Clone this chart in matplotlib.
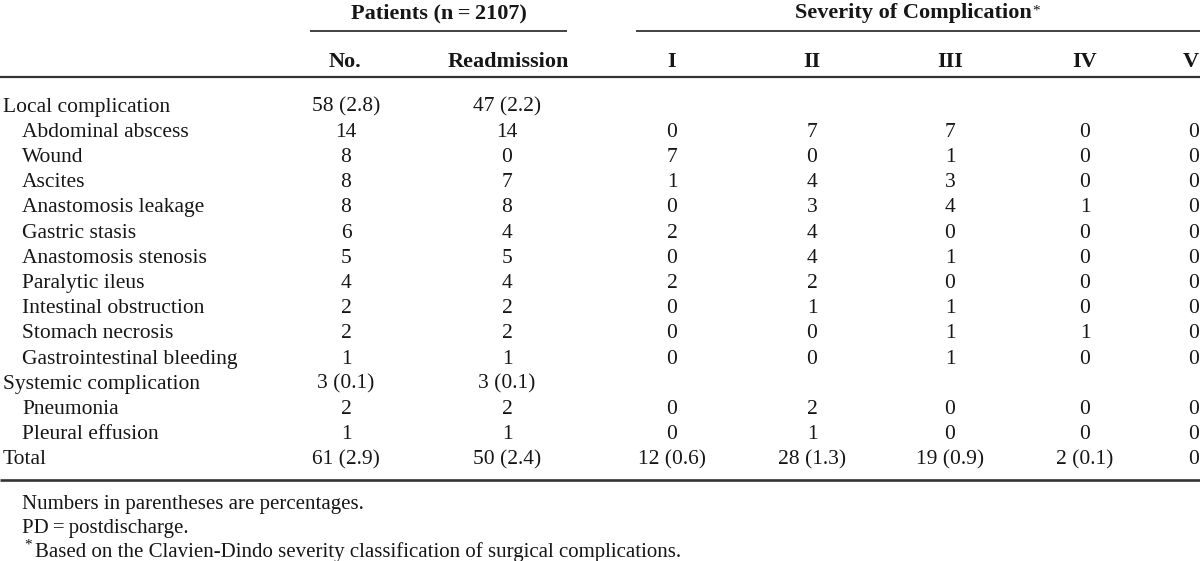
import matplotlib
matplotlib.use("Agg")
import matplotlib.pyplot as plt

# ---- data ----
row_labels = ["Local complication", "Abdominal abscess", "Wound", "Ascites",
              "Anastomosis leakage", "Gastric stasis", "Anastomosis stenosis",
              "Paralytic ileus", "Intestinal obstruction", "Stomach necrosis",
              "Gastrointestinal bleeding", "Systemic complication", "Pneumonia",
              "Pleural effusion", "Total"]
row_indent = [0, 1, 1, 1, 1, 1, 1, 1, 1, 1, 1, 0, 1, 1, 0]
col_no = ["58 (2.8)", "14", "8", "8", "8", "6", "5", "4", "2", "2", "1",
          "3 (0.1)", "2", "1", "61 (2.9)"]
col_readm = ["47 (2.2)", "14", "0", "7", "8", "4", "5", "4", "2", "2", "1",
             "3 (0.1)", "2", "1", "50 (2.4)"]
col_I = ["", "0", "7", "1", "0", "2", "0", "2", "0", "0", "0", "", "0", "0", "12 (0.6)"]
col_II = ["", "7", "0", "4", "3", "4", "4", "2", "1", "0", "0", "", "2", "1", "28 (1.3)"]
col_III = ["", "7", "1", "3", "4", "0", "1", "0", "1", "1", "1", "", "0", "0", "19 (0.9)"]
col_IV = ["", "0", "0", "0", "1", "0", "0", "0", "0", "1", "0", "", "0", "0", "2 (0.1)"]
col_V = ["", "0", "0", "0", "0", "0", "0", "0", "0", "0", "0", "", "0", "0", "0"]
col_headers = ["No.", "Readmission", "I", "II", "III", "IV", "V"]
group_headers = ["Patients (n\u2009=\u20092107)", "Severity of Complication"]
notes = ["Numbers in parentheses are percentages.",
         "PD\u2009=\u2009postdischarge.",
         "Based on the Clavien-Dindo severity classification of surgical complications."]

# ---- layout ----
W, H = 1200, 561
fig = plt.figure(figsize=(W / 100, H / 100), dpi=100)
ax = fig.add_axes([0, 0, 1, 1])
ax.set_xlim(0, W)
ax.set_ylim(H, 0)
ax.axis("off")

FONT = "Liberation Serif"
FS = 15.5
FSB = 16
FSN = 15
TXT = "#161616"
RULE = "#333333"

col_x = [346, 507, 672, 812, 950, 1085, 1199]
head_x = [345, 508, 672, 812, 950, 1085, 1199]
col_ha = ["center"] * 6 + ["right"]
columns = [col_no, col_readm, col_I, col_II, col_III, col_IV, col_V]

# group headers
ax.text(439, 13, group_headers[0], fontsize=FSB, fontweight="bold", family=FONT,
        ha="center", va="center", color=TXT)
sev = ax.text(913, 13, group_headers[1], fontsize=FSB, fontweight="bold", family=FONT,
              ha="center", va="center", color=TXT)
ax.annotate("*", xy=(1, 1), xycoords=sev, xytext=(0.5, -1), textcoords="offset points",
            fontsize=11, family=FONT, ha="left", va="top", color=TXT)

# header underlines
ax.plot([310, 567], [31, 31], color=RULE, lw=1.3, solid_capstyle="butt")
ax.plot([636, 1200], [31, 31], color=RULE, lw=1.3, solid_capstyle="butt")

# column headers
for x, ha, h in zip(head_x, col_ha, col_headers):
    ax.text(x, 62, h, fontsize=FSB, fontweight="bold", family=FONT,
            ha=ha, va="center", color=TXT)

# top rule
ax.plot([0, W], [77, 77], color=RULE, lw=1.6, solid_capstyle="butt")

# body
y0, dy = 107, 25.2
for i, lab in enumerate(row_labels):
    y = y0 + i * dy
    ax.text(3 + 19 * row_indent[i], y, lab, fontsize=FS, family=FONT,
            ha="left", va="center", color=TXT)
    for x, ha, col in zip(col_x, col_ha, columns):
        if col[i]:
            ax.text(x, y, col[i], fontsize=FS, family=FONT,
                    ha=ha, va="center", color=TXT)

# bottom rule
ax.plot([0, W], [480, 480], color=RULE, lw=1.9, solid_capstyle="butt")

# notes
note_y = [505, 529, 552]
for j, (t, y) in enumerate(zip(notes, note_y)):
    if j == 2:
        ax.text(24, y - 7, "*", fontsize=11, family=FONT, ha="left", va="center", color=TXT)
        ax.text(35, y, t, fontsize=FSN, family=FONT, ha="left", va="center", color=TXT)
    else:
        ax.text(22, y, t, fontsize=FSN, family=FONT, ha="left", va="center", color=TXT)

fig.savefig("out.png", dpi=100, facecolor="white")
